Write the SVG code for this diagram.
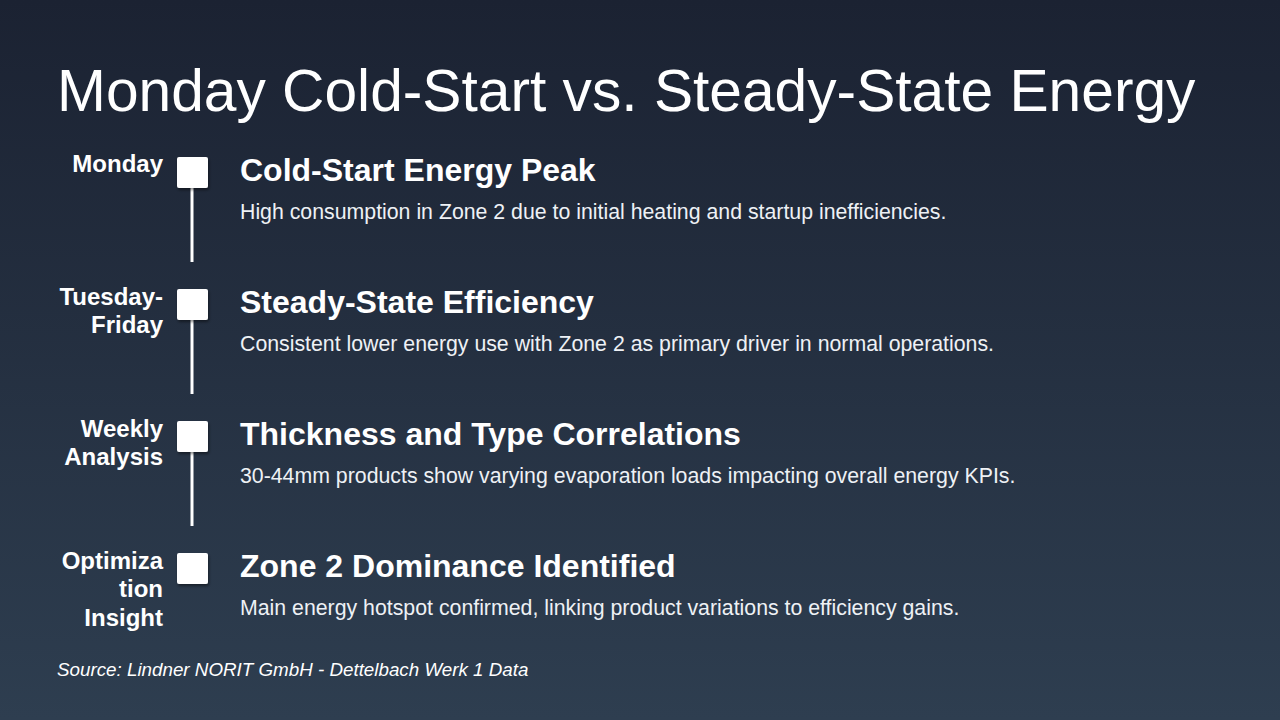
<svg xmlns="http://www.w3.org/2000/svg" width="1280" height="720" viewBox="0 0 1280 720">
<defs>
<linearGradient id="bg" x1="0" y1="0" x2="0" y2="1">
<stop offset="0" stop-color="#1b2232"/>
<stop offset="1" stop-color="#2e3e50"/>
</linearGradient>
<filter id="sh" x="-30%" y="-30%" width="160%" height="160%">
<feDropShadow dx="1" dy="2" stdDeviation="1.5" flood-color="#000" flood-opacity="0.45"/>
</filter>
<style>
.t{font-family:"Liberation Sans",Arial,sans-serif;fill:#fff}
.title{font-size:58.7px}
.lab{font-size:24px;font-weight:bold;text-anchor:end}
.h{font-size:32px;font-weight:bold}
.b{font-size:21.3px;fill:#eef1f5}
.src{font-size:18.8px;font-style:italic}
.sq{fill:#fff;filter:url(#sh)}
.ln{stroke:#fff;stroke-width:3}
</style>
</defs>
<rect width="1280" height="720" fill="url(#bg)"/>
<text class="t title" x="57" y="111">Monday Cold-Start vs. Steady-State Energy</text>
<g id="connectors">
<line class="ln" x1="192" y1="188" x2="192" y2="262"/>
<line class="ln" x1="192" y1="320" x2="192" y2="394"/>
<line class="ln" x1="192" y1="452" x2="192" y2="526"/>
</g>
<g id="n1">
<text class="t lab" x="163" y="172">Monday</text>
<rect class="sq" x="177" y="157" width="31" height="31" rx="2"/>
<text class="t h" x="240" y="181">Cold-Start Energy Peak</text>
<text class="t b" x="240" y="218.5">High consumption in Zone 2 due to initial heating and startup inefficiencies.</text>
</g>
<g id="n2">
<text class="t lab" x="163" y="304.5">Tuesday-</text>
<text class="t lab" x="163" y="333">Friday</text>
<rect class="sq" x="177" y="289" width="31" height="31" rx="2"/>
<text class="t h" x="240" y="313">Steady-State Efficiency</text>
<text class="t b" x="240" y="350.5">Consistent lower energy use with Zone 2 as primary driver in normal operations.</text>
</g>
<g id="n3">
<text class="t lab" x="163" y="436.5">Weekly</text>
<text class="t lab" x="163" y="465">Analysis</text>
<rect class="sq" x="177" y="421" width="31" height="31" rx="2"/>
<text class="t h" x="240" y="445">Thickness and Type Correlations</text>
<text class="t b" x="240" y="482.5">30-44mm products show varying evaporation loads impacting overall energy KPIs.</text>
</g>
<g id="n4">
<text class="t lab" x="163" y="568.5">Optimiza</text>
<text class="t lab" x="163" y="597">tion</text>
<text class="t lab" x="163" y="625.5">Insight</text>
<rect class="sq" x="177" y="553" width="31" height="31" rx="2"/>
<text class="t h" x="240" y="577">Zone 2 Dominance Identified</text>
<text class="t b" x="240" y="614.5">Main energy hotspot confirmed, linking product variations to efficiency gains.</text>
</g>
<text class="t src" x="57" y="676">Source: Lindner NORIT GmbH - Dettelbach Werk 1 Data</text>
</svg>
